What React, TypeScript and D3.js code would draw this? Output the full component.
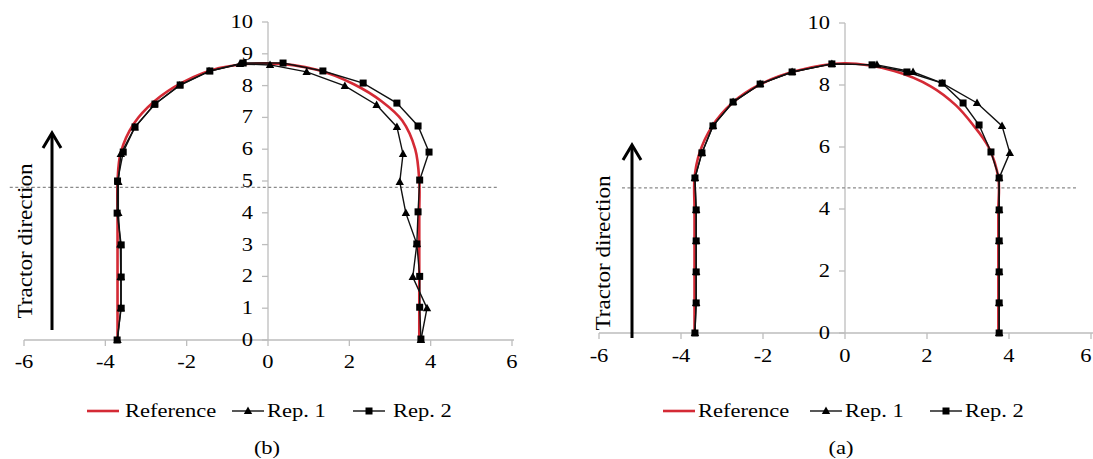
import React from "react";
import * as d3 from "d3";

// field path data (metres): [x, y]
const refB: [number, number][] = [
  [3.72, 0], [3.72, 1], [3.72, 2], [3.72, 3], [3.72, 4], [3.72, 5], [3.62, 6],
  [3.3, 6.9], [2.8, 7.5], [2.1, 8.05], [1.2, 8.5], [0, 8.7], [-1.2, 8.55],
  [-2.1, 8.1], [-2.8, 7.5], [-3.3, 6.8], [-3.62, 5.9], [-3.7, 5], [-3.7, 4],
  [-3.7, 3], [-3.7, 2], [-3.7, 1], [-3.7, 0],
];
const rep1B: [number, number][] = [
  [3.76, 0], [3.91, 1.0], [3.56, 1.98], [3.66, 3.02], [3.39, 3.99], [3.24, 4.97],
  [3.32, 5.85], [3.17, 6.7], [2.67, 7.39], [1.89, 7.99], [0.95, 8.43], [0.05, 8.65],
  [-0.69, 8.68], [-1.45, 8.45], [-2.18, 8.0], [-2.8, 7.4], [-3.28, 6.68],
  [-3.62, 5.85], [-3.68, 4.97], [-3.68, 3.99], [-3.63, 3.0], [-3.62, 1.98],
  [-3.62, 1.0], [-3.7, 0],
];
const rep2B: [number, number][] = [
  [3.76, 0.03], [3.73, 1.03], [3.73, 2.0], [3.66, 3.02], [3.69, 4.03], [3.73, 5.03],
  [3.96, 5.91], [3.69, 6.73], [3.17, 7.45], [2.34, 8.08], [1.35, 8.46], [0.37, 8.71],
  [-0.61, 8.71], [-1.43, 8.46], [-2.16, 8.02], [-2.78, 7.42], [-3.27, 6.7],
  [-3.56, 5.91], [-3.7, 5.0], [-3.71, 3.99], [-3.61, 2.99], [-3.61, 1.98],
  [-3.61, 1.0], [-3.71, 0],
];

const refA: [number, number][] = [
  [3.74, 0], [3.74, 1], [3.74, 2], [3.74, 3], [3.74, 4], [3.74, 5], [3.5, 6],
  [3.1, 6.75], [2.7, 7.35], [2.1, 7.95], [1.2, 8.45], [0, 8.7], [-1.2, 8.45],
  [-2.1, 8.0], [-2.75, 7.42], [-3.25, 6.65], [-3.55, 5.8], [-3.67, 5], [-3.67, 4],
  [-3.67, 3], [-3.67, 2], [-3.67, 1], [-3.67, 0],
];
const rep1A: [number, number][] = [
  [3.76, 0], [3.76, 0.97], [3.76, 1.97], [3.76, 2.97], [3.76, 3.97], [3.76, 5.0],
  [4.02, 5.81], [3.83, 6.68], [3.22, 7.42], [2.37, 8.06], [1.66, 8.42], [0.78, 8.65],
  [-0.32, 8.68], [-1.29, 8.42], [-2.07, 8.03], [-2.73, 7.45], [-3.22, 6.68],
  [-3.49, 5.81], [-3.66, 5.0], [-3.63, 3.97], [-3.63, 2.97], [-3.63, 1.97],
  [-3.63, 0.97], [-3.66, 0],
];
const rep2A: [number, number][] = [
  [3.76, 0], [3.76, 0.97], [3.76, 1.97], [3.76, 2.97], [3.76, 3.97], [3.76, 5.0],
  [3.56, 5.84], [3.27, 6.71], [2.88, 7.42], [2.37, 8.06], [1.51, 8.42], [0.66, 8.65],
  [-0.32, 8.68], [-1.29, 8.42], [-2.07, 8.03], [-2.73, 7.45], [-3.22, 6.68],
  [-3.49, 5.81], [-3.66, 5.0], [-3.63, 3.97], [-3.63, 2.97], [-3.63, 1.97],
  [-3.63, 0.97], [-3.66, 0],
];

const xTicks = [-6, -4, -2, 0, 2, 4, 6];
const yTicksB = [0, 1, 2, 3, 4, 5, 6, 7, 8, 9, 10];
const yTicksA = [0, 2, 4, 6, 8, 10];
const legendLabels = ["Reference", "Rep. 1", "Rep. 2"];

const W = 1093;
const H = 459;
const RED = "#d42a35";
const AXIS = "#bdbdbd";
const FONT = "'Liberation Serif', 'Times New Roman', serif";
const SX = 1.25; // the source figure is stretched horizontally

const panels = [
  {
    caption: "(b)", ref: refB, rep1: rep1B, rep2: rep2B, yTicks: yTicksB,
    xRange: [24, 512], yRange: [340, 22], dashY: 4.8, dashX: [-6.35, 5.65],
    xLabelY: 368, arrowX: 52, arrowTop: 133, arrowBottom: 330, titleX: 32, titleMid: 241,
    legend: [87, 232, 353], legendText: [125, 267, 393], captionX: 267,
  },
  {
    caption: "(a)", ref: refA, rep1: rep1A, rep2: rep2A, yTicks: yTicksA,
    xRange: [599, 1091], yRange: [333, 23], dashY: 4.68, dashX: [-5.44, 5.66],
    xLabelY: 362, arrowX: 632, arrowTop: 145, arrowBottom: 338, titleX: 610, titleMid: 253,
    legend: [663, 810, 930], legendText: [698, 845, 965], captionX: 841,
  },
];

const Tri = ({ x, y }: { x: number; y: number }) => (
  <path d={`M${x},${y - 4.5}L${x + 4.2},${y + 3}L${x - 4.2},${y + 3}Z`} fill="#000" />
);
const Sq = ({ x, y }: { x: number; y: number }) => (
  <rect x={x - 3.5} y={y - 3.5} width={7} height={7} fill="#000" />
);

const SText = ({ x, y, anchor = "start", size = 18, children }: any) => (
  <text
    transform={`translate(${x},${y}) scale(${SX},1)`}
    textAnchor={anchor}
    fontFamily={FONT}
    fontSize={size}
    fill="#000"
  >
    {children}
  </text>
);

function Panel({ p }: { p: (typeof panels)[number] }) {
  const x = d3.scaleLinear().domain([-6, 6]).range(p.xRange);
  const y = d3.scaleLinear().domain([0, 10]).range(p.yRange);
  const x0 = x(0);
  const y0 = y(0);

  const smooth = d3
    .line<[number, number]>()
    .x((d) => x(d[0]))
    .y((d) => y(d[1]))
    .curve(d3.curveCatmullRom.alpha(0.5));
  const straight = d3
    .line<[number, number]>()
    .x((d) => x(d[0]))
    .y((d) => y(d[1]));

  const ly = 411;
  return (
    <g>
      {/* axes */}
      <line x1={x(-6)} x2={Math.min(x(6) + 2, W)} y1={y0} y2={y0} stroke={AXIS} strokeWidth={1.3} />
      <line x1={x0} x2={x0} y1={y0} y2={y(10)} stroke={AXIS} strokeWidth={1.3} />
      {xTicks.map((t) => (
        <g key={"x" + t}>
          <line x1={x(t)} x2={x(t)} y1={y0} y2={y0 + 6} stroke={AXIS} strokeWidth={1.3} />
          {/* keep the last label inside the frame */}
          <SText x={Math.min(x(t), W - 7)} y={p.xLabelY} anchor="middle">
            {t}
          </SText>
        </g>
      ))}
      {p.yTicks.map((t) => (
        <g key={"y" + t}>
          <line x1={x0 - 6} x2={x0} y1={y(t)} y2={y(t)} stroke={AXIS} strokeWidth={1.3} />
          <SText x={x0 - 15} y={y(t) + 6} anchor="end">
            {t}
          </SText>
        </g>
      ))}

      {/* dashed reference line */}
      <line
        x1={x(p.dashX[0])}
        x2={x(p.dashX[1])}
        y1={y(p.dashY)}
        y2={y(p.dashY)}
        stroke="#8a8a8a"
        strokeWidth={1.2}
        strokeDasharray="3,2.5"
      />

      {/* travel direction */}
      <line x1={p.arrowX} x2={p.arrowX} y1={p.arrowBottom} y2={p.arrowTop + 1} stroke="#000" strokeWidth={3} />
      <path
        d={`M${p.arrowX - 9},${p.arrowTop + 15}L${p.arrowX},${p.arrowTop}L${p.arrowX + 9},${p.arrowTop + 15}`}
        fill="none"
        stroke="#000"
        strokeWidth={3}
      />
      <text
        transform={`translate(${p.titleX},${p.titleMid}) rotate(-90)`}
        textAnchor="middle"
        fontFamily={FONT}
        fontSize={20}
        textLength={155}
        lengthAdjust="spacingAndGlyphs"
      >
        Tractor direction
      </text>

      {/* series */}
      <path d={smooth(p.ref) ?? ""} fill="none" stroke={RED} strokeWidth={2.6} />
      <path d={straight(p.rep1) ?? ""} fill="none" stroke="#111" strokeWidth={1.4} />
      <path d={straight(p.rep2) ?? ""} fill="none" stroke="#111" strokeWidth={1.4} />
      {p.rep1.map((d, i) => (
        <Tri key={"t" + i} x={x(d[0])} y={y(d[1])} />
      ))}
      {p.rep2.map((d, i) => (
        <Sq key={"s" + i} x={x(d[0])} y={y(d[1])} />
      ))}

      {/* legend */}
      <line x1={p.legend[0]} x2={p.legend[0] + 32} y1={ly} y2={ly} stroke={RED} strokeWidth={2.6} />
      <line x1={p.legend[1]} x2={p.legend[1] + 32} y1={ly} y2={ly} stroke="#111" strokeWidth={1.4} />
      <Tri x={p.legend[1] + 16} y={ly} />
      <line x1={p.legend[2]} x2={p.legend[2] + 32} y1={ly} y2={ly} stroke="#111" strokeWidth={1.4} />
      <Sq x={p.legend[2] + 16} y={ly} />
      {legendLabels.map((l, i) => (
        <SText key={l} x={p.legendText[i]} y={ly + 6}>
          {l}
        </SText>
      ))}

      <SText x={p.captionX} y={454} anchor="middle">
        {p.caption}
      </SText>
    </g>
  );
}

export default function App() {
  return (
    <svg
      width={W}
      height={H}
      style={{ position: "absolute", left: 0, top: 0, background: "#fff" }}
    >
      <rect width={W} height={H} fill="#fff" />
      {panels.map((p) => (
        <Panel key={p.caption} p={p} />
      ))}
    </svg>
  );
}
